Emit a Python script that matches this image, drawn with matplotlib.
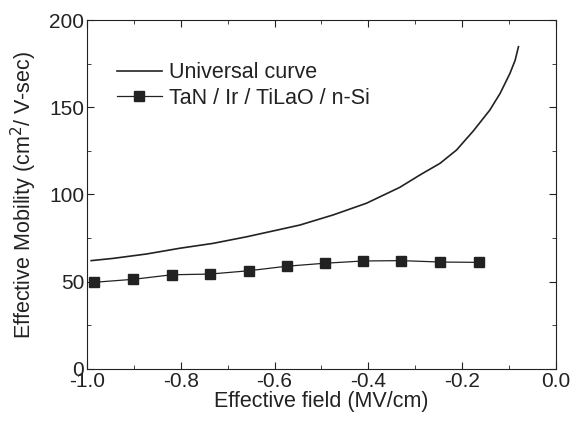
import numpy as np
import matplotlib
matplotlib.use('Agg')
import matplotlib.pyplot as plt
from matplotlib.ticker import MultipleLocator

plt.rcParams['font.family'] = ['Liberation Sans', 'DejaVu Sans']

# universal curve
univ_field = [-0.991, -0.944, -0.873, -0.802, -0.731, -0.659, -0.588, -0.546,
              -0.475, -0.404, -0.333, -0.290, -0.247, -0.212, -0.176, -0.141,
              -0.119, -0.098, -0.087, -0.080]
univ_mob = [62.1, 63.4, 65.9, 69.2, 72.0, 75.8, 80.0, 82.5,
            88.3, 95.0, 104.1, 111.2, 117.9, 125.5, 136.5, 148.4,
            158.0, 169.5, 177.0, 184.7]

# TaN / Ir / TiLaO / n-Si
dev_field = [-0.984, -0.901, -0.819, -0.738, -0.655, -0.574, -0.493, -0.411,
             -0.330, -0.247, -0.165]
dev_mob = [49.7, 51.4, 54.0, 54.4, 56.3, 58.9, 60.6, 61.9, 62.1, 61.3, 61.1]

fig = plt.figure(figsize=(5.72, 4.22), dpi=100)
ax = fig.add_axes([0.152, 0.1256, 0.820, 0.827])
ink = '#222222'

ax.plot(univ_field, univ_mob, color=ink, lw=1.2, label='Universal curve')
ax.plot(dev_field, dev_mob, color=ink, lw=0.9, marker='s', ms=7.5,
        label='TaN / Ir / TiLaO / n-Si')

ax.set_xlim(-1.0, 0.0)
ax.set_ylim(0, 200)
ax.xaxis.set_major_locator(MultipleLocator(0.2))
ax.xaxis.set_minor_locator(MultipleLocator(0.1))
ax.yaxis.set_major_locator(MultipleLocator(50))
ax.yaxis.set_minor_locator(MultipleLocator(25))
ax.xaxis.set_major_formatter(matplotlib.ticker.FormatStrFormatter('%.1f'))
ax.tick_params(which='both', direction='in', top=True, right=True,
               colors=ink, labelsize=15)
ax.tick_params(which='major', length=5, pad=2)
ax.tick_params(which='minor', length=3)
for s in ax.spines.values():
    s.set_color(ink)

ax.set_xlabel('Effective field (MV/cm)', fontsize=15.5, color=ink, labelpad=0)
ax.set_ylabel('Effective Mobility (cm$^2$/ V-sec)', fontsize=15.5, color=ink,
              labelpad=7)

ax.legend(loc='upper left', bbox_to_anchor=(0.022, 0.935), frameon=False,
          fontsize=15.5, handlelength=2.1, handletextpad=0.35, labelspacing=0.22,
          labelcolor=ink)

fig.savefig('out.png', dpi=100)
